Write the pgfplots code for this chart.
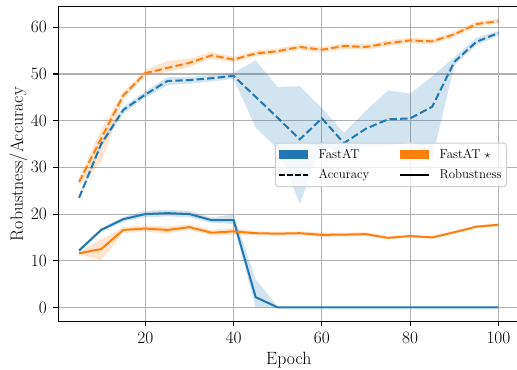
\documentclass[border=0pt]{standalone}
\usepackage{pgfplots}
\usepackage{pgfplotstable}
\pgfplotsset{compat=1.18}
\usepgfplotslibrary{fillbetween}
\definecolor{tabblue}{HTML}{1F77B4}
\definecolor{taborange}{HTML}{FF7F0E}
\definecolor{gridgray}{HTML}{B0B0B0}

% FastAT accuracy
\pgfplotstableread{
x mean lo hi
5 23.5 23.0 24.0
10 35.0 34.4 35.6
15 42.3 41.6 43.0
20 45.6 44.9 46.3
25 48.5 47.6 49.3
30 48.7 48.0 49.4
35 49.1 48.4 49.8
40 49.6 49.0 50.3
45 45.1 38.5 52.9
50 40.6 34.0 47.2
55 36.0 22.2 47.4
60 40.5 35.0 42.7
65 35.2 32.5 37.4
70 38.3 34.5 42.2
75 40.3 34.5 46.5
80 40.5 35.5 45.8
85 43.0 32.0 49.5
90 52.6 51.8 53.6
95 56.9 56.2 57.8
100 58.8 58.2 59.2
}\BA
% FastAT* accuracy
\pgfplotstableread{
x mean lo hi
5 26.9 26.2 27.8
10 36.2 31.0 38.0
15 45.4 44.5 46.2
20 50.2 49.5 50.9
25 51.3 50.5 52.8
30 52.4 51.5 53.3
35 54.0 53.3 54.7
40 53.1 52.5 53.7
45 54.4 53.8 55.0
50 54.9 54.3 55.5
55 55.8 55.2 56.4
60 55.2 54.6 55.8
65 56.0 55.4 56.6
70 55.8 55.2 56.4
75 56.6 56.0 57.2
80 57.2 56.6 57.8
85 57.0 56.4 57.6
90 58.5 57.9 59.1
95 60.7 60.1 61.3
100 61.3 60.8 61.8
}\OA
% FastAT robustness
\pgfplotstableread{
x mean lo hi
5 12.2 11.9 12.5
10 16.6 16.2 17.0
15 18.9 18.4 19.4
20 20.0 19.3 20.7
25 20.2 19.5 20.9
30 20.0 19.3 20.7
35 18.7 18.1 19.3
40 18.7 17.9 19.9
45 2.2 0.0 6.0
50 0.0 0.0 0.2
55 0.0 0.0 0.0
60 0.0 0.0 0.0
65 0.0 0.0 0.0
70 0.0 0.0 0.0
75 0.0 0.0 0.0
80 0.0 0.0 0.0
85 0.0 0.0 0.0
90 0.0 0.0 0.0
95 0.0 0.0 0.0
100 0.0 0.0 0.0
}\BR
% FastAT* robustness
\pgfplotstableread{
x mean lo hi
5 11.6 11.3 11.9
10 12.5 10.1 14.6
15 16.6 16.0 17.2
20 16.9 16.2 17.6
25 16.6 15.9 17.3
30 17.2 16.6 17.8
35 16.0 15.4 16.6
40 16.3 15.6 17.0
45 15.9 15.5 16.3
50 15.8 15.4 16.2
55 15.9 15.5 16.3
60 15.55 15.1 16.0
65 15.6 15.2 16.0
70 15.7 15.3 16.1
75 14.9 14.6 15.2
80 15.3 15.0 15.6
85 15.0 14.7 15.3
90 16.1 15.8 16.4
95 17.3 17.0 17.6
100 17.7 17.4 18.0
}\OR

\begin{document}
\begin{tikzpicture}
\begin{axis}[
  scale only axis, width=460.2pt, height=314.3pt,
  xmin=0.25, xmax=104.75, ymin=-3.07, ymax=64.42,
  xtick={20,40,60,80,100}, ytick={0,10,20,30,40,50,60},
  grid=major, major grid style={draw=gridgray, line width=1.07pt},
  axis line style={line width=1.07pt},
  tick align=outside, major tick length=4.7pt,
  every tick/.style={black, line width=1.07pt},
  xtick pos=left, ytick pos=left,
  ticklabel style={font=\fontsize{16}{19}\selectfont},
  xticklabel style={yshift=-2.5pt},
  yticklabel style={xshift=-3.0pt},
  xlabel={Epoch}, ylabel={Robustness/Accuracy},
  xlabel style={font=\fontsize{17.7}{21}\selectfont, at={(rel axis cs:0.5,-0.1368)}, anchor=base},
  ylabel style={font=\fontsize{17.7}{21}\selectfont, at={(rel axis cs:-0.0767,0.5)}, anchor=base},
  legend columns=2, legend cell align=left,
  legend style={at={(rel axis cs:0.470,0.5686)}, anchor=north west,
    draw=black!20, line width=1pt, rounded corners=3pt, fill=white, fill opacity=0.8, text opacity=1,
    font=\fontsize{12.8}{15}\selectfont, inner xsep=3pt, inner ysep=4pt, row sep=6pt,
    /tikz/every odd column/.append style={column sep=8pt},
    /tikz/every even column/.append style={column sep=28pt}},
]
\coordinate (SW) at (rel axis cs:0,0);
\coordinate (NE) at (rel axis cs:1,1);
% FastAT accuracy
\addplot[name path=BAhi, draw=none, forget plot] table[x=x,y=hi]{\BA};
\addplot[name path=BAlo, draw=none, forget plot] table[x=x,y=lo]{\BA};
\addplot[fill=tabblue, fill opacity=0.2, draw=none, forget plot] fill between[of=BAhi and BAlo];
\addplot[tabblue, line width=2pt, dash pattern=on 7.4pt off 3.2pt, forget plot] table[x=x,y=mean]{\BA};
% FastAT robustness
\addplot[name path=BRhi, draw=none, forget plot] table[x=x,y=hi]{\BR};
\addplot[name path=BRlo, draw=none, forget plot] table[x=x,y=lo]{\BR};
\addplot[fill=tabblue, fill opacity=0.2, draw=none, forget plot] fill between[of=BRhi and BRlo];
\addplot[tabblue, line width=2pt, forget plot] table[x=x,y=mean]{\BR};
% FastAT* accuracy
\addplot[name path=OAhi, draw=none, forget plot] table[x=x,y=hi]{\OA};
\addplot[name path=OAlo, draw=none, forget plot] table[x=x,y=lo]{\OA};
\addplot[fill=taborange, fill opacity=0.2, draw=none, forget plot] fill between[of=OAhi and OAlo];
\addplot[taborange, line width=2pt, dash pattern=on 7.4pt off 3.2pt, forget plot] table[x=x,y=mean]{\OA};
% FastAT* robustness
\addplot[name path=ORhi, draw=none, forget plot] table[x=x,y=hi]{\OR};
\addplot[name path=ORlo, draw=none, forget plot] table[x=x,y=lo]{\OR};
\addplot[fill=taborange, fill opacity=0.2, draw=none, forget plot] fill between[of=ORhi and ORlo];
\addplot[taborange, line width=2pt, forget plot] table[x=x,y=mean]{\OR};
% legend
\addlegendimage{legend image code/.code={\fill[tabblue, fill opacity=1, sharp corners] (0pt,-4.35pt) rectangle (28.7pt,4.35pt);}}
\addlegendentry{FastAT}
\addlegendimage{legend image code/.code={\fill[taborange, fill opacity=1, sharp corners] (0pt,-4.35pt) rectangle (28.7pt,4.35pt);}}
\addlegendentry{FastAT $\star$}
\addlegendimage{legend image code/.code={\draw[black, line width=1.5pt, sharp corners, dash pattern=on 5.5pt off 2.4pt] (0pt,0pt) -- (28.7pt,0pt);}}
\addlegendentry{Accuracy}
\addlegendimage{legend image code/.code={\draw[black, line width=1.5pt, sharp corners] (0pt,0pt) -- (28.7pt,0pt);}}
\addlegendentry{Robustness}
\end{axis}
\pgfresetboundingbox
\useasboundingbox ([xshift=-58pt,yshift=-48pt]SW) rectangle ([xshift=-2.4pt,yshift=6.7pt]NE);
\end{tikzpicture}
\end{document}
